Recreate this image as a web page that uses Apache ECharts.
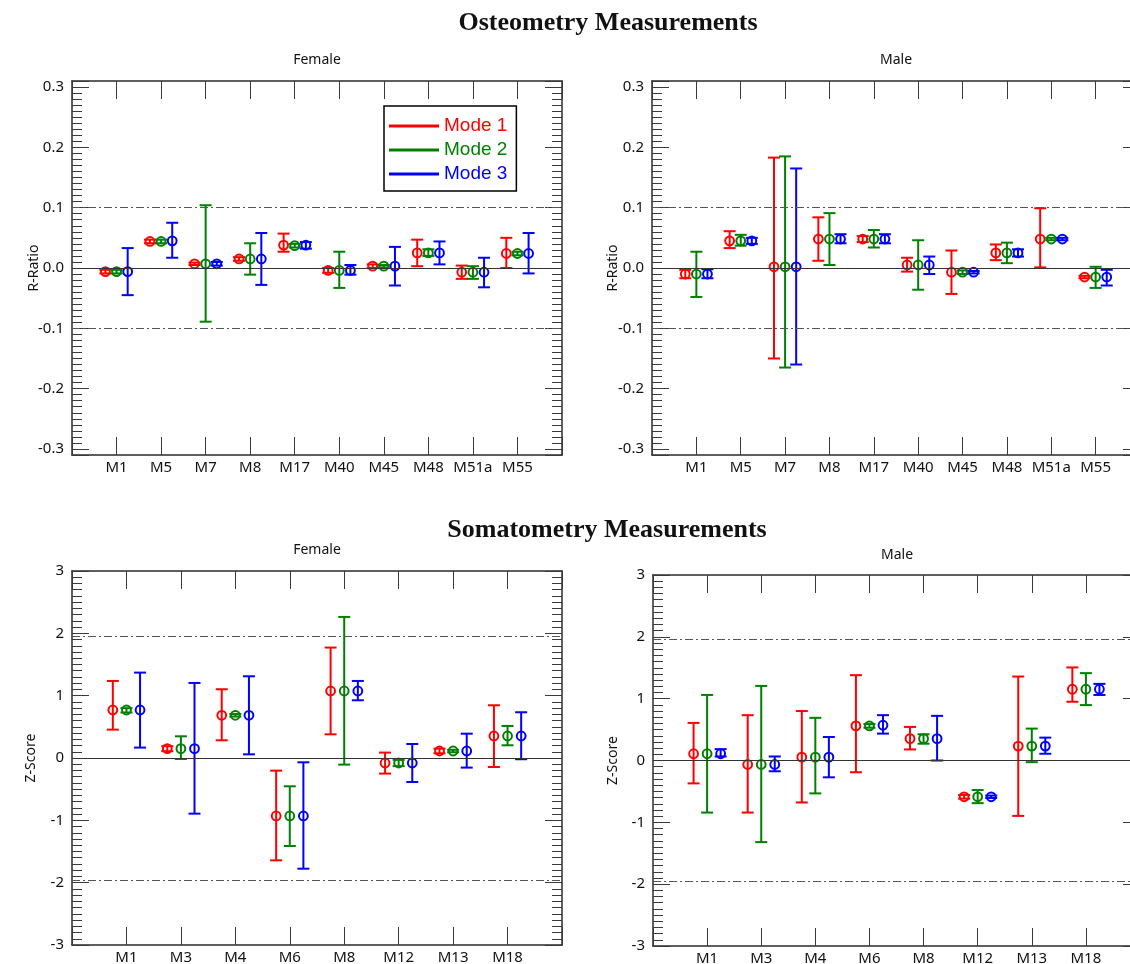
<!DOCTYPE html>
<html>
<head>
<meta charset="utf-8">
<title>Osteometry / Somatometry</title>
<script src="https://cdn.jsdelivr.net/npm/echarts@6/dist/echarts.min.js"></script>
<style>
  html, body { margin: 0; padding: 0; background: #fff; }
  #chart { width: 1130px; height: 964px; }
</style>
</head>
<body>
<div id="chart"></div>
<script>
// categories
const osteoCats = ["M1", "M5", "M7", "M8", "M17", "M40", "M45", "M48", "M51a", "M55"];
const somatoCats = ["M1", "M3", "M4", "M6", "M8", "M12", "M13", "M18"];
const modeNames = ["Mode 1", "Mode 2", "Mode 3"];
const modeColors = ["#ff0000", "#008000", "#0000ff"];

// each entry: [mean, lower, upper]
const osteoFemaleMode1 = [[-0.006,-0.009,-0.003],[0.044,0.041,0.047],[0.007,0.005,0.009],[0.015,0.012,0.018],[0.038,0.027,0.057],[-0.004,-0.008,0.0],[0.003,0.0,0.006],[0.025,0.003,0.047],[-0.007,-0.018,0.004],[0.024,0.0,0.05]];
const osteoFemaleMode2 = [[-0.006,-0.009,-0.003],[0.044,0.041,0.047],[0.007,-0.089,0.104],[0.015,-0.011,0.041],[0.037,0.034,0.040],[-0.004,-0.033,0.027],[0.003,0.001,0.005],[0.025,0.020,0.031],[-0.007,-0.018,0.003],[0.024,0.021,0.027]];
const osteoFemaleMode3 = [[-0.006,-0.045,0.033],[0.045,0.017,0.075],[0.007,0.004,0.010],[0.015,-0.028,0.058],[0.038,0.032,0.043],[-0.004,-0.011,0.005],[0.003,-0.029,0.035],[0.025,0.006,0.044],[-0.007,-0.032,0.017],[0.024,-0.009,0.058]];

const osteoMaleMode1 = [[-0.010,-0.017,-0.003],[0.045,0.033,0.061],[0.002,-0.150,0.183],[0.048,0.012,0.084],[0.048,0.043,0.053],[0.005,-0.006,0.017],[-0.007,-0.043,0.029],[0.025,0.013,0.039],[0.048,0.001,0.099],[-0.015,-0.017,-0.013]];
const osteoMaleMode2 = [[-0.010,-0.048,0.027],[0.045,0.037,0.055],[0.002,-0.165,0.185],[0.048,0.005,0.091],[0.048,0.034,0.063],[0.005,-0.036,0.046],[-0.007,-0.010,-0.004],[0.025,0.008,0.042],[0.048,0.046,0.050],[-0.015,-0.033,0.002]];
const osteoMaleMode3 = [[-0.010,-0.017,-0.002],[0.045,0.040,0.050],[0.002,-0.160,0.165],[0.048,0.041,0.056],[0.048,0.041,0.056],[0.005,-0.010,0.019],[-0.007,-0.009,-0.005],[0.025,0.019,0.031],[0.048,0.046,0.050],[-0.015,-0.029,-0.003]];

const somatoFemaleMode1 = [[0.77,0.455,1.236],[0.15,0.11,0.19],[0.685,0.284,1.103],[-0.93,-1.642,-0.203],[1.075,0.38,1.772],[-0.08,-0.25,0.087],[0.112,0.075,0.15],[0.353,-0.144,0.846]];
const somatoFemaleMode2 = [[0.77,0.73,0.80],[0.15,-0.016,0.348],[0.685,0.665,0.705],[-0.93,-1.412,-0.454],[1.075,-0.106,2.263],[-0.08,-0.13,-0.03],[0.112,0.092,0.132],[0.353,0.204,0.514]];
const somatoFemaleMode3 = [[0.77,0.167,1.37],[0.15,-0.893,1.204],[0.685,0.059,1.311],[-0.93,-1.776,-0.069],[1.075,0.926,1.236],[-0.08,-0.385,0.225],[0.112,-0.154,0.39],[0.353,-0.02,0.734]];

const somatoMaleMode1 = [[0.109,-0.37,0.608],[-0.065,-0.842,0.733],[0.054,-0.679,0.80],[0.559,-0.19,1.38],[0.353,0.179,0.543],[-0.587,-0.617,-0.557],[0.233,-0.896,1.358],[1.152,0.95,1.505]];
const somatoMaleMode2 = [[0.109,-0.842,1.06],[-0.065,-1.32,1.206],[0.054,-0.532,0.69],[0.559,0.53,0.589],[0.353,0.272,0.424],[-0.587,-0.69,-0.478],[0.233,-0.027,0.516],[1.152,0.896,1.413]];
const somatoMaleMode3 = [[0.109,0.065,0.184],[-0.065,-0.174,0.065],[0.054,-0.272,0.38],[0.57,0.435,0.733],[0.353,0.0,0.722],[-0.587,-0.607,-0.567],[0.233,0.109,0.37],[1.152,1.06,1.239]];

// reference lines
const osteoLimits = [-0.1, 0.1];
const somatoLimits = [-1.96, 1.96];

const panels = [
  { cats: osteoCats, modes: [osteoFemaleMode1, osteoFemaleMode2, osteoFemaleMode3], yName: "R-Ratio", nameGap: 31, yMin: -0.31, yMax: 0.31, limits: osteoLimits, decimals: 1 },
  { cats: osteoCats, modes: [osteoMaleMode1, osteoMaleMode2, osteoMaleMode3], yName: "R-Ratio", nameGap: 32, yMin: -0.31, yMax: 0.31, limits: osteoLimits, decimals: 1 },
  { cats: somatoCats, modes: [somatoFemaleMode1, somatoFemaleMode2, somatoFemaleMode3], yName: "Z-Score", nameGap: 34, yMin: -3, yMax: 3, limits: somatoLimits, decimals: 0 },
  { cats: somatoCats, modes: [somatoMaleMode1, somatoMaleMode2, somatoMaleMode3], yName: "Z-Score", nameGap: 33, yMin: -3, yMax: 3, limits: somatoLimits, decimals: 0 },
];

const grids = [
  { left: 72, top: 81, width: 490, height: 374 },
  { left: 652, top: 81, width: 488, height: 374 },
  { left: 72, top: 571, width: 490, height: 374 },
  { left: 653, top: 575, width: 487, height: 371 },
];

const sans = "'Noto Sans', 'Open Sans', sans-serif";
const frame = { show: true, onZero: false, lineStyle: { color: "#2b2b2b", width: 1.5 } };
const tickStyle = { color: "#3a3a3a", width: 1 };

/** error bar with open circle, positioned through the axes */
const renderErrorBar = (params, api) => {
  const x = api.value(0);
  const mid = api.coord([x, api.value(1)]);
  const lo = api.coord([x, api.value(2)]);
  const hi = api.coord([x, api.value(3)]);
  const color = api.visual("color");
  const cap = 6;
  const stroke = { stroke: color, lineWidth: 2, fill: null };
  return {
    type: "group",
    children: [
      { type: "line", shape: { x1: lo[0], y1: lo[1], x2: hi[0], y2: hi[1] }, style: stroke },
      { type: "line", shape: { x1: hi[0] - cap, y1: hi[1], x2: hi[0] + cap, y2: hi[1] }, style: stroke },
      { type: "line", shape: { x1: lo[0] - cap, y1: lo[1], x2: lo[0] + cap, y2: lo[1] }, style: stroke },
      { type: "circle", shape: { cx: mid[0], cy: mid[1], r: 4.4 }, style: { stroke: color, lineWidth: 2, fill: "rgba(0,0,0,0)" } },
    ],
  };
};

const xAxis = [];
const yAxis = [];
const series = [];

panels.forEach((p, gi) => {
  const xBase = {
    gridIndex: gi,
    type: "value",
    min: 0,
    max: p.cats.length + 1,
    interval: 1,
    splitLine: { show: false },
    axisLine: frame,
    axisTick: { inside: true, length: 18, lineStyle: tickStyle },
  };
  xAxis.push({
    ...xBase,
    position: "bottom",
    axisLabel: {
      formatter: (v) => p.cats[v - 1] || "",
      margin: 5,
      color: "#111",
      fontSize: 15,
      fontFamily: sans,
    },
  });
  xAxis.push({ ...xBase, position: "top", axisLabel: { show: false } });

  const yBase = {
    gridIndex: gi,
    type: "value",
    min: p.yMin,
    max: p.yMax,
    splitNumber: 6,
    splitLine: { show: false },
    axisLine: frame,
    axisTick: { show: true, inside: true, length: 17, lineStyle: tickStyle },
    minorTick: { show: true, splitNumber: 10, length: 10, lineStyle: tickStyle },
  };
  yAxis.push({
    ...yBase,
    position: "left",
    name: p.yName,
    nameLocation: "middle",
    nameGap: p.nameGap,
    nameMoveOverlap: false,
    nameTextStyle: { color: "#111", fontSize: 14, fontFamily: sans },
    axisLabel: {
      margin: 8,
      color: "#111",
      fontSize: 15,
      fontFamily: sans,
      formatter: (v) => {
        const k = Math.pow(10, p.decimals);
        if (Math.abs(Math.round(v * k) - v * k) > 1e-6) return "";
        return v.toFixed(p.decimals);
      },
    },
  });
  yAxis.push({ ...yBase, position: "right", axisLabel: { show: false } });

  p.modes.forEach((rows, k) => {
    series.push({
      type: "custom",
      name: modeNames[k],
      xAxisIndex: gi * 2,
      yAxisIndex: gi * 2,
      itemStyle: { color: modeColors[k] },
      encode: { x: 0, y: 1 },
      renderItem: renderErrorBar,
      data: rows.map((r, i) => [i + 1 + (k - 1) * 0.25, r[0], r[1], r[2]]),
      z: 3,
      markLine:
        k === 0
          ? {
              silent: true,
              symbol: ["none", "none"],
              label: { show: false },
              animation: false,
              data: [
                { yAxis: 0, lineStyle: { color: "#333", width: 1, type: "solid" } },
                ...p.limits.map((v) => ({
                  yAxis: v,
                  lineStyle: { color: "#555", width: 1, type: [8, 3, 2, 3] },
                })),
              ],
            }
          : undefined,
    });
  });
});

const text = (x, y, s, font) => ({
  type: "text",
  x,
  y,
  style: { text: s, font, fill: "#111", align: "center", verticalAlign: "middle" },
});

const option = {
  backgroundColor: "#fff",
  animation: false,
  grid: grids.map((g) => ({ ...g, containLabel: false, outerBoundsMode: "none" })),
  xAxis,
  yAxis,
  series,
  legend: {
    left: 384,
    top: 106,
    orient: "vertical",
    selectedMode: false,
    itemWidth: 50,
    itemHeight: 3,
    itemGap: 4,
    padding: [10, 9, 7, 5],
    borderColor: "#000",
    borderWidth: 1.5,
    textStyle: { fontSize: 19, fontFamily: "'Liberation Sans', Arial, sans-serif", lineHeight: 20 },
    data: modeNames.map((n, k) => ({
      name: n,
      icon: "rect",
      itemStyle: { color: modeColors[k] },
      textStyle: { color: modeColors[k] },
    })),
  },
  graphic: [
    text(608, 23, "Osteometry Measurements", "bold 26px 'Liberation Serif', serif"),
    text(607, 530, "Somatometry Measurements", "bold 26px 'Liberation Serif', serif"),
    text(317, 60, "Female", `14px ${sans}`),
    text(896, 60, "Male", `14px ${sans}`),
    text(317, 550, "Female", `14px ${sans}`),
    text(897, 555, "Male", `14px ${sans}`),
  ],
};

const chart = echarts.init(document.getElementById("chart"));
chart.setOption(option);
</script>
</body>
</html>
